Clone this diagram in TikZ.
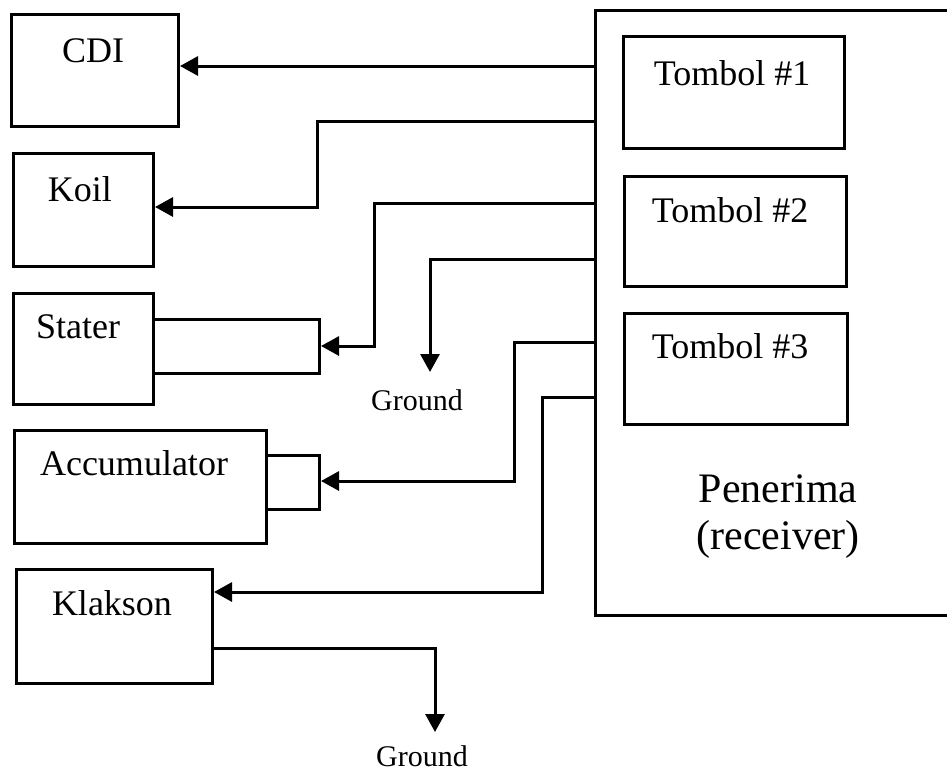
\documentclass[tikz,border=0pt]{standalone}
\usepackage{fontspec}
\setmainfont{Liberation Serif}
\usetikzlibrary{arrows.meta,calc}
\begin{document}
\begin{tikzpicture}[x=1pt,y=-1pt,
  box/.style={draw,line width=3pt,inner sep=0pt,anchor=north west},
  lbl/.style={font=\fontsize{36}{36}\selectfont,anchor=base,inner sep=0pt},
  rlbl/.style={font=\fontsize{42}{42}\selectfont,anchor=base,inner sep=0pt},
  glbl/.style={font=\fontsize{30}{30}\selectfont,anchor=base,inner sep=0pt},
  wire/.style={line width=3pt},
  arr/.style={wire,-{Triangle[length=18pt,width=19pt]}}]
\useasboundingbox (0,0) rectangle (947,774);
% boxes
\node[box,minimum width=167pt,minimum height=112pt] (cdi) at (10,13) {};
\node[box,minimum width=140pt,minimum height=113pt] (koil) at (12,152) {};
\node[box,minimum width=140pt,minimum height=111pt] (stater) at (12,292) {};
\node[box,minimum width=166pt,minimum height=54pt] (staterx) at (152,318) {};
\node[box,minimum width=252pt,minimum height=113pt] (acc) at (13,429) {};
\node[box,minimum width=53pt,minimum height=54pt] (accx) at (265,454) {};
\node[box,minimum width=196pt,minimum height=114pt] (klak) at (15,568) {};
\node[box,minimum width=221pt,minimum height=112pt] (t1) at (622,35) {};
\node[box,minimum width=222pt,minimum height=110pt] (t2) at (623,175) {};
\node[box,minimum width=223pt,minimum height=111pt] (t3) at (623,312) {};
\node[inner sep=0pt,anchor=north west,minimum width=352pt,minimum height=605pt] (rcv) at (595,10) {};
\draw[wire] (rcv.north east) -- (rcv.north west) -- (rcv.south west) -- (rcv.south east);
% labels
\node[lbl] (tcdi) at (93,62) {CDI};
\node[lbl] (tkoil) at (80,201) {Koil};
\node[lbl] (tstater) at (78,338) {Stater};
\node[lbl] (tacc) at (134,475) {Accumulator};
\node[lbl] (tklak) at (112,615) {Klakson};
\node[lbl] (tt1) at (732,85) {Tombol \#1};
\node[lbl] (tt2) at (730,222) {Tombol \#2};
\node[lbl] (tt3) at (730,358) {Tombol \#3};
\node[rlbl] (trcv1) at (778,502) {Penerima};
\node[rlbl] (trcv2) at (778,549) {(receiver)};
\node[glbl] (gnd1) at (417,410) {Ground};
\node[glbl] (gnd2) at (422,766) {Ground};
\coordinate (g1) at (430,372);
\coordinate (g2) at (435,732);
% connectors
\draw[arr] (rcv.west |- 0,66) -- (cdi.east |- 0,66);
\draw[arr] (rcv.west |- 0,121) -| (317,207) -- (koil.east |- 0,207);
\draw[arr] (rcv.west |- 0,203) -| (374,346) -- (staterx.east |- 0,346);
\draw[arr] (rcv.west |- 0,259) -| (g1);
\draw[arr] (rcv.west |- 0,342) -| (514,481) -- (accx.east |- 0,481);
\draw[arr] (rcv.west |- 0,397) -| (542,592) -- (klak.east |- 0,592);
\draw[arr] (klak.east |- 0,648) -| (g2);
\end{tikzpicture}
\end{document}
